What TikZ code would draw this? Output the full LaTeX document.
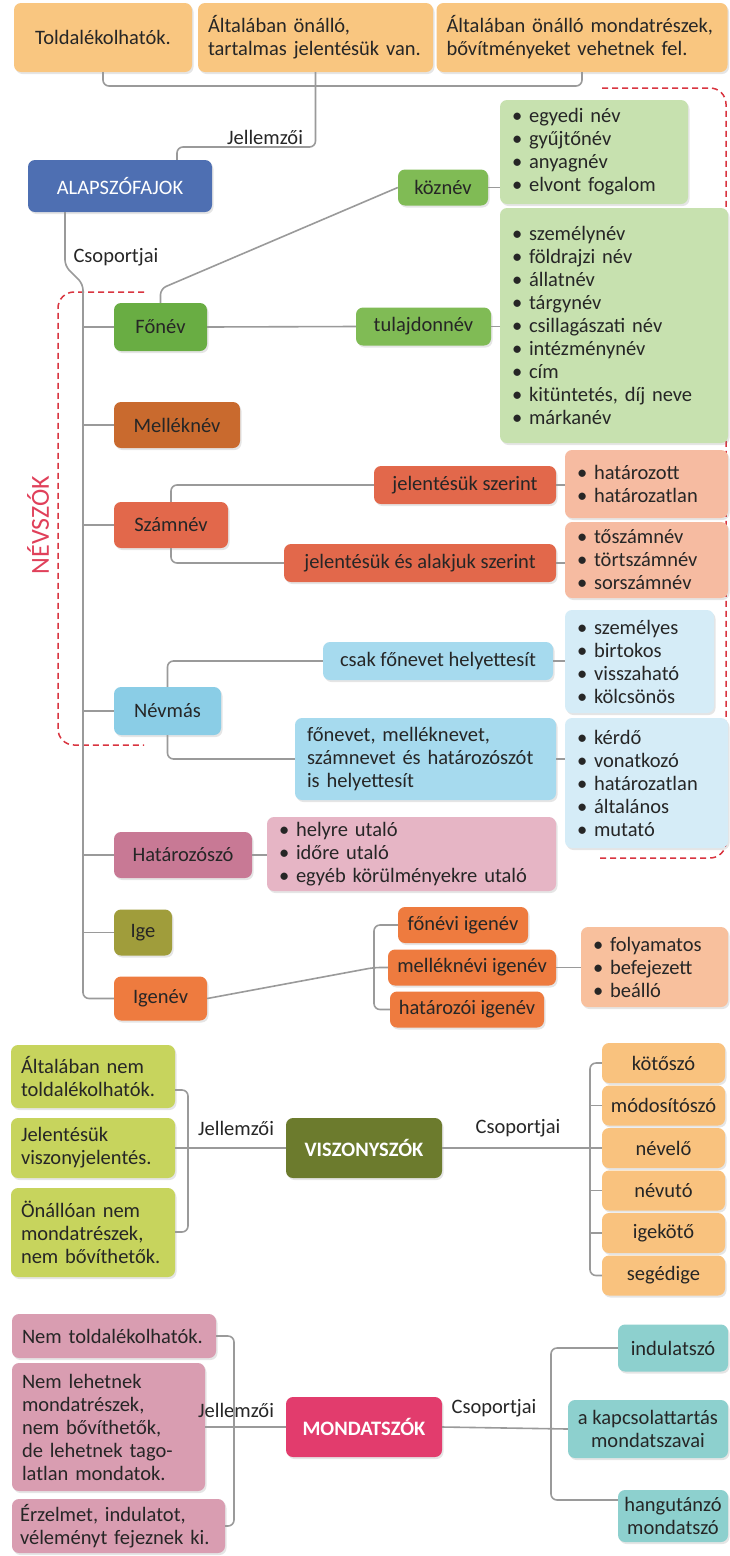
\documentclass[tikz,border=0pt]{standalone}
\usepackage{fontspec}
\setmainfont{Carlito}
\usepackage{tikz}
\usetikzlibrary{shadows, positioning}
\definecolor{txt}{HTML}{262626}
\definecolor{linegrey}{HTML}{9A9A9A}
\definecolor{dashred}{HTML}{D9343F}
\definecolor{nevred}{HTML}{E0405A}
\definecolor{toporange}{HTML}{F9C680}
\definecolor{alapblue}{HTML}{4E6FB2}
\definecolor{fonevgreen}{HTML}{69AD43}
\definecolor{kidgreen}{HTML}{80BB55}
\definecolor{listgreen}{HTML}{C7E1AF}
\definecolor{mellekbrown}{HTML}{C96A2E}
\definecolor{szamred}{HTML}{E2684B}
\definecolor{listsalmon}{HTML}{F6BBA1}
\definecolor{nevmasblue}{HTML}{8ACDE6}
\definecolor{csakblue}{HTML}{A6DAEE}
\definecolor{listblue}{HTML}{D5ECF7}
\definecolor{hatpink}{HTML}{C87995}
\definecolor{listpink}{HTML}{E6B5C5}
\definecolor{igeolive}{HTML}{A09D3B}
\definecolor{igenevorange}{HTML}{EE7B3F}
\definecolor{listpeach}{HTML}{F8C09D}
\definecolor{vleft}{HTML}{C7D45D}
\definecolor{viszolive}{HTML}{6C7B2D}
\definecolor{vright}{HTML}{F9C27E}
\definecolor{mleft}{HTML}{D99DB1}
\definecolor{mondatpink}{HTML}{E23C6D}
\definecolor{mright}{HTML}{8DD0CE}
\tikzstyle{box} = [rectangle, rounded corners = 7pt, inner sep = 0pt, text = txt, font = \fontsize{20.5}{23}\selectfont,
drop shadow = {opacity = 0.2, shadow xshift = 1.5pt, shadow yshift = -2pt}]
\tikzstyle{head} = [box, text = white]
\tikzstyle{list} = [box, align = left, inner xsep = 12pt]
\tikzstyle{lbl} = [font = \fontsize{20.5}{23}\selectfont, text = txt]
\tikzstyle{link} = [draw = linegrey, line width = 1.6pt, rounded corners = 6pt]
\tikzstyle{nevszo} = [draw = dashred, line width = 1.5pt, dash pattern = on 6pt off 4pt, rounded corners = 16pt]

\begin{document}
\begin{tikzpicture}[x = 1pt, y = -1pt]

    \useasboundingbox (0,0) rectangle (729,1556);
    \fill[white] (0,0) rectangle (729,1556);

    \draw[nevszo] (144,292) -- (58,292) -- (58,745) -- (144,745);
    \draw[nevszo] (602,88) -- (726,88) -- (726,858) -- (600,858);
    \node (nevszok) [rotate = 90, text = nevred, font = \fontsize{26}{30}\selectfont] at (38,525) {NÉVSZÓK};

    \node (top1) [box, fill = toporange, minimum width = 178pt, minimum height = 69pt] at (103,37.5) {Toldalékolhatók.};
    \node (top2) [list, inner xsep = 10pt, fill = toporange, text width = 215pt, minimum height = 69pt] at (315.5,37.5) {Általában önálló,\\tartalmas jelentésük van.};
    \node (top3) [list, inner xsep = 10pt, fill = toporange, text width = 271pt, minimum height = 69pt] at (582,37.5) {Általában önálló mondatrészek,\\bővítményeket vehetnek fel.};

    \node (alap) [head, fill = alapblue, minimum width = 184pt, minimum height = 52pt] at (120,186) {ALAPSZÓFAJOK};
    \node (jell1) [lbl] at (265,137) {Jellemzői};
    \node (csop1) [lbl, anchor = west] at (70,257) {Csoportjai};

    \node (fonev) [box, fill = fonevgreen, minimum width = 93pt, minimum height = 48pt] at (160.5,327) {Főnév};
    \node (mellek) [box, fill = mellekbrown, minimum width = 126pt, minimum height = 46pt] at (177,425) {Melléknév};
    \node (szamnev) [box, fill = szamred, minimum width = 114pt, minimum height = 46pt] at (171,525) {Számnév};
    \node (nevmas) [box, fill = nevmasblue, minimum width = 107pt, minimum height = 48pt] at (167.5,711) {Névmás};
    \node (hatarozo) [box, fill = hatpink, minimum width = 138pt, minimum height = 46pt] at (183,855) {Határozószó};
    \node (ige) [box, fill = igeolive, minimum width = 58pt, minimum height = 46pt] at (143,932.5) {Ige};
    \node (igenev) [box, fill = igenevorange, minimum width = 93pt, minimum height = 44pt] at (160.5,998.5) {Igenév};

    \node (koznev) [box, fill = kidgreen, minimum width = 90pt, minimum height = 36pt] at (443,187.5) {köznév};
    \node (kozlista) [list, fill = listgreen, text width = 164pt, minimum height = 104pt] at (594,152) {• egyedi név\\• gyűjtőnév\\• anyagnév\\• elvont fogalom};
    \node (tulaj) [box, fill = kidgreen, minimum width = 135pt, minimum height = 38pt] at (423.5,326.5) {tulajdonnév};
    \node (tulajlista) [list, fill = listgreen, text width = 204pt, minimum height = 235pt] at (614,325.5) {• személynév\\• földrajzi név\\• állatnév\\• tárgynév\\• csillagászati név\\• intézménynév\\• cím\\• kitüntetés, díj neve\\• márkanév};

    \node (jsz) [box, fill = szamred, minimum width = 182pt, minimum height = 38pt] at (465,485) {jelentésük szerint};
    \node (jszlista) [list, fill = listsalmon, text width = 139pt, minimum height = 68pt] at (646.5,484) {• határozott\\• határozatlan};
    \node (jasz) [box, fill = szamred, minimum width = 272pt, minimum height = 38pt] at (420,563) {jelentésük és alakjuk szerint};
    \node (jaszlista) [list, fill = listsalmon, text width = 139pt, minimum height = 76pt] at (646.5,560) {• tőszámnév\\• törtszámnév\\• sorszámnév};

    \node (csak) [box, fill = csakblue, minimum width = 230pt, minimum height = 38pt] at (438,661) {csak főnevet helyettesít};
    \node (csaklista) [list, fill = listblue, text width = 125pt, minimum height = 103pt] at (639.5,661.5) {• személyes\\• birtokos\\• visszaható\\• kölcsönös};
    \node (fonevet) [list, fill = csakblue, text width = 237pt, minimum height = 82pt] at (425.5,759) {főnevet, melléknevet,\\számnevet és határozószót\\is helyettesít};
    \node (fonevetlista) [list, fill = listblue, text width = 139pt, minimum height = 130pt] at (646.5,783) {• kérdő\\• vonatkozó\\• határozatlan\\• általános\\• mutató};

    \node (hatlista) [list, fill = listpink, text width = 265pt, minimum height = 74pt] at (411.5,854) {• helyre utaló\\• időre utaló\\• egyéb körülményekre utaló};

    \node (fonevi) [box, fill = igenevorange, minimum width = 130pt, minimum height = 36pt] at (463,925) {főnévi igenév};
    \node (mellekn) [box, fill = igenevorange, minimum width = 168pt, minimum height = 36pt] at (472,967.5) {melléknévi igenév};
    \node (hatarozoi) [box, fill = igenevorange, minimum width = 154pt, minimum height = 36pt] at (467,1009.5) {határozói igenév};
    \node (mlista) [list, fill = listpeach, text width = 123pt, minimum height = 80pt] at (654.5,967) {• folyamatos\\• befejezett\\• beálló};

    \node (vl1) [list, inner xsep = 10pt, fill = vleft, text width = 144pt, minimum height = 63pt] at (93,1076.5) {Általában nem\\toldalékolhatók.};
    \node (vl2) [list, inner xsep = 10pt, fill = vleft, text width = 144pt, minimum height = 60pt] at (93,1148) {Jelentésük\\viszonyjelentés.};
    \node (vl3) [list, inner xsep = 10pt, fill = vleft, text width = 144pt, minimum height = 89pt] at (93,1232.5) {Önállóan nem\\mondatrészek,\\nem bővíthetők.};
    \node (viszony) [head, fill = viszolive, minimum width = 156pt, minimum height = 60pt, font = \fontsize{20.5}{23}\selectfont\bfseries] at (364,1148) {VISZONYSZÓK};
    \node (jell2) [lbl] at (236,1128) {Jellemzői};
    \node (csop2) [lbl] at (518,1128) {Csoportjai};

    \node (kotoszo) [box, fill = vright, minimum width = 123pt, minimum height = 40pt] at (663.5,1063) {kötőszó};
    \node (modosito) [box, fill = vright, minimum width = 123pt, minimum height = 40pt] at (663.5,1105.5) {módosítószó};
    \node (nevelo) [box, fill = vright, minimum width = 123pt, minimum height = 40pt] at (663.5,1148) {névelő};
    \node (nevuto) [box, fill = vright, minimum width = 123pt, minimum height = 40pt] at (663.5,1190.5) {névutó};
    \node (igekoto) [box, fill = vright, minimum width = 123pt, minimum height = 40pt] at (663.5,1233) {igekötő};
    \node (segedige) [box, fill = vright, minimum width = 123pt, minimum height = 40pt] at (663.5,1275.5) {segédige};

    \node (ml1) [list, inner xsep = 10pt, fill = mleft, text width = 184pt, minimum height = 44pt] at (114,1336) {Nem toldalékolhatók.};
    \node (ml2) [list, inner xsep = 10pt, fill = mleft, text width = 173pt, minimum height = 128pt] at (108.5,1427) {Nem lehetnek\\mondatrészek,\\nem bővíthetők,\\de lehetnek tago-\\latlan mondatok.};
    \node (ml3) [list, inner xsep = 8pt, fill = mleft, text width = 197pt, minimum height = 54pt] at (118.5,1526) {Érzelmet, indulatot,\\véleményt fejeznek ki.};
    \node (mondat) [head, fill = mondatpink, minimum width = 156pt, minimum height = 60pt, font = \fontsize{20.5}{23}\selectfont\bfseries] at (364,1427) {MONDATSZÓK};
    \node (jell3) [lbl] at (236,1410) {Jellemzői};
    \node (csop3) [lbl] at (494,1408) {Csoportjai};

    \node (indulat) [box, fill = mright, minimum width = 110pt, minimum height = 47pt] at (673,1348) {indulatszó};
    \node (kapcs) [box, fill = mright, minimum width = 160pt, minimum height = 58pt, align = center] at (648,1429) {a kapcsolattartás\\mondatszavai};
    \node (hangut) [box, fill = mright, minimum width = 110pt, minimum height = 52pt, align = center] at (673,1516) {hangutánzó\\mondatszó};

    \coordinate (jellbar) at (315.5,86);
    \coordinate (jellturn) at (177,147);
    \coordinate (csop) at (65,266);
    \coordinate (trunk) at (83,284);
    \coordinate (ibrk) at (374,967.5);
    \coordinate (vtop) at (188,1090);
    \coordinate (vbot) at (188,1232);
    \coordinate (vr) at (590,1148);
    \coordinate (mltop) at (234,1336);
    \coordinate (mlbot) at (234,1526);
    \coordinate (mrtop) at (551,1348);
    \coordinate (mrbot) at (551,1500);

    \draw[link] (top1.south) |- (jellbar) -| (top3.south);
    \draw[link] (top2.south) |- (jellturn) -- (jellturn |- alap.north);
    \draw[link] (alap.south -| csop) -- (csop) -- (trunk) |- (igenev.west);
    \foreach \n in {fonev, mellek, szamnev, nevmas, hatarozo, ige}
        \draw[link] (\n.west) -- (\n.west -| trunk);

    \draw[link] (fonev.north) -- ++(0,-14) -- (koznev.west);
    \draw[link] (fonev.east) -- (tulaj.west);
    \draw[link] (koznev.east) -- (koznev.east -| kozlista.west);
    \draw[link] (tulaj.east) -- (tulaj.east -| tulajlista.west);
    \draw[link] (szamnev.north) |- (jsz.west);
    \draw[link] (szamnev.south) |- (jasz.west);
    \draw[link] (jsz.east) -- (jsz.east -| jszlista.west);
    \draw[link] (jasz.east) -- (jasz.east -| jaszlista.west);
    \draw[link] (nevmas.north) |- (csak.west);
    \draw[link] (nevmas.south) |- (fonevet.west);
    \draw[link] (csak.east) -- (csak.east -| csaklista.west);
    \draw[link] (fonevet.east) -- (fonevet.east -| fonevetlista.west);
    \draw[link] (hatarozo.east) -- (hatarozo.east -| hatlista.west);
    \draw[link] (fonevi.west) -| (ibrk) |- (hatarozoi.west);
    \draw[link] (igenev.east) -- (ibrk) -- (mellekn.west);
    \draw[link] (mellekn.east) -- (mellekn.east -| mlista.west);

    \draw[link] (vl1.east |- vtop) -- (vtop) -- (vbot) -- (vl3.east |- vbot);
    \draw[link] (vl2.east) -- (viszony.west);
    \draw[link] (viszony.east) -- (vr);
    \draw[link] (kotoszo.west) -| (vr) |- (segedige.west);
    \foreach \n in {modosito, nevelo, nevuto, igekoto}
        \draw[link] (\n.west) -- (\n.west -| vr);

    \draw[link] (ml1.east) -- (mltop) -- (mlbot) -- (ml3.east);
    \draw[link] (ml2.east) -- (mondat.west);
    \draw[link] (indulat.west) -- (mrtop) -- (mrbot) -- (hangut.west |- mrbot);
    \draw[link] (mondat.east) -- (kapcs.west);

\end{tikzpicture}
\end{document}
